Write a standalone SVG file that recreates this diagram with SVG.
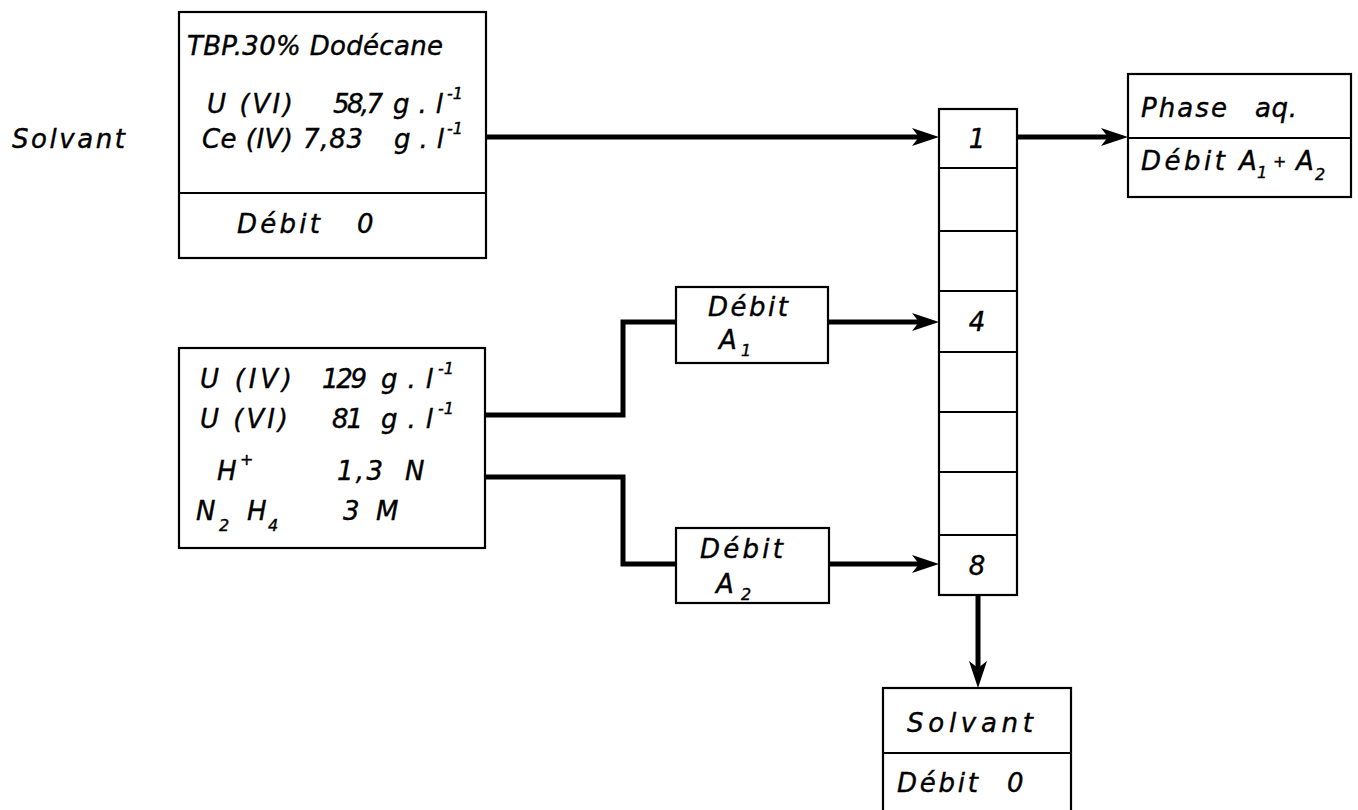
<svg xmlns="http://www.w3.org/2000/svg" width="1358" height="810" viewBox="0 0 1358 810">
<style>
.box{fill:#fff;stroke:#000;stroke-width:2.2}
.div{fill:none;stroke:#000;stroke-width:2}
.wire{fill:none;stroke:#000;stroke-width:5}
.t{font-family:"DejaVu Sans","Liberation Sans",sans-serif;font-style:italic;font-size:26px;fill:#000;stroke:#000;stroke-width:0.4}
.s{font-size:16px}
.c{text-anchor:middle}
</style>
<defs>
<marker id="ah" markerUnits="userSpaceOnUse" markerWidth="28" markerHeight="20" viewBox="0 0 28 20" refX="14" refY="10" orient="auto">
<path d="M0,1 L27,10 L0,19 L7,10 Z" fill="#000"/>
</marker>
</defs>
<rect width="1358" height="810" fill="#fff"/>

<g id="connectors">
<path class="wire" d="M486,137 H926" marker-end="url(#ah)"/>
<path class="wire" d="M1017,137 H1115" marker-end="url(#ah)"/>
<path class="wire" d="M485,415 H623 V322 H676"/>
<path class="wire" d="M828,322 H926" marker-end="url(#ah)"/>
<path class="wire" d="M485,477 H623 V564 H676"/>
<path class="wire" d="M829,564 H926" marker-end="url(#ah)"/>
<path class="wire" d="M978,595 V675" marker-end="url(#ah)"/>
</g>

<g id="label-solvant-in">
<text class="t" x="12" y="148" textLength="113" lengthAdjust="spacing">Solvant</text>
</g>

<g id="feed-solvant">
<rect class="box" x="179" y="12" width="307" height="246"/>
<line class="div" x1="179" y1="193" x2="486" y2="193"/>
<text class="t" x="187" y="55" textLength="256" lengthAdjust="spacing">TBP.30% Dodécane</text>
<text class="t" x="207" y="113" textLength="86" lengthAdjust="spacing">U (VI)</text>
<text class="t" x="333" y="113" textLength="50" lengthAdjust="spacing">58,7</text>
<text class="t" x="393" y="113" textLength="50" lengthAdjust="spacing">g.l</text>
<text class="t s" x="447" y="99">-1</text>
<text class="t" x="202" y="148" textLength="91" lengthAdjust="spacing">Ce (IV)</text>
<text class="t" x="303" y="148" textLength="60" lengthAdjust="spacing">7,83</text>
<text class="t" x="394" y="148" textLength="50" lengthAdjust="spacing">g.l</text>
<text class="t s" x="447" y="134">-1</text>
<text class="t" x="237" y="233" textLength="83" lengthAdjust="spacing">Débit</text>
<text class="t" x="357" y="233">0</text>
</g>

<g id="feed-aqueous">
<rect class="box" x="179" y="348" width="306" height="200"/>
<text class="t" x="200" y="388" textLength="92" lengthAdjust="spacing">U (IV)</text>
<text class="t" x="322" y="388" textLength="45" lengthAdjust="spacing">129</text>
<text class="t" x="381" y="388" textLength="52" lengthAdjust="spacing">g.l</text>
<text class="t s" x="438" y="374">-1</text>
<text class="t" x="200" y="428" textLength="88" lengthAdjust="spacing">U (VI)</text>
<text class="t" x="332" y="428" textLength="31" lengthAdjust="spacing">81</text>
<text class="t" x="381" y="428" textLength="52" lengthAdjust="spacing">g.l</text>
<text class="t s" x="438" y="414">-1</text>
<text class="t" x="217" y="480">H</text>
<text class="t s" x="240" y="465">+</text>
<text class="t" x="337" y="480" textLength="46" lengthAdjust="spacing">1,3</text>
<text class="t" x="405" y="480">N</text>
<text class="t" x="196" y="520">N</text>
<text class="t s" x="219" y="531">2</text>
<text class="t" x="247" y="520">H</text>
<text class="t s" x="268" y="531">4</text>
<text class="t" x="343" y="520">3</text>
<text class="t" x="376" y="520">M</text>
</g>

<g id="debit-a1">
<rect class="box" x="676" y="287" width="152" height="76"/>
<text class="t" x="708" y="316" textLength="80" lengthAdjust="spacing">Débit</text>
<text class="t" x="719" y="349">A</text>
<text class="t s" x="741" y="356">1</text>
</g>

<g id="debit-a2">
<rect class="box" x="676" y="528" width="153" height="75"/>
<text class="t" x="700" y="558" textLength="83" lengthAdjust="spacing">Débit</text>
<text class="t" x="716" y="593">A</text>
<text class="t s" x="741" y="600">2</text>
</g>

<g id="column">
<rect class="box" x="939" y="109" width="78" height="486"/>
<line class="div" x1="939" y1="168" x2="1017" y2="168"/>
<line class="div" x1="939" y1="231" x2="1017" y2="231"/>
<line class="div" x1="939" y1="291" x2="1017" y2="291"/>
<line class="div" x1="939" y1="352" x2="1017" y2="352"/>
<line class="div" x1="939" y1="412" x2="1017" y2="412"/>
<line class="div" x1="939" y1="472" x2="1017" y2="472"/>
<line class="div" x1="939" y1="535" x2="1017" y2="535"/>
<text class="t c" x="977" y="148">1</text>
<text class="t c" x="977" y="331">4</text>
<text class="t c" x="977" y="575">8</text>
</g>

<g id="out-aqueous">
<rect class="box" x="1128" y="74" width="223" height="123"/>
<line class="div" x1="1128" y1="138" x2="1351" y2="138"/>
<text class="t" x="1141" y="117" textLength="86" lengthAdjust="spacing">Phase</text>
<text class="t" x="1255" y="117" textLength="42" lengthAdjust="spacing">aq.</text>
<text class="t" x="1141" y="170" textLength="84" lengthAdjust="spacing">Débit</text>
<text class="t" x="1239" y="170">A</text>
<text class="t s" x="1257" y="178">1</text>
<text class="t s" x="1273" y="167">+</text>
<text class="t" x="1296" y="170">A</text>
<text class="t s" x="1315" y="180">2</text>
</g>

<g id="out-solvant">
<rect class="box" x="883" y="688" width="188" height="130"/>
<line class="div" x1="883" y1="753" x2="1071" y2="753"/>
<text class="t" x="907" y="732" textLength="126" lengthAdjust="spacing">Solvant</text>
<text class="t" x="897" y="792" textLength="81" lengthAdjust="spacing">Débit</text>
<text class="t" x="1007" y="792">0</text>
</g>
</svg>
